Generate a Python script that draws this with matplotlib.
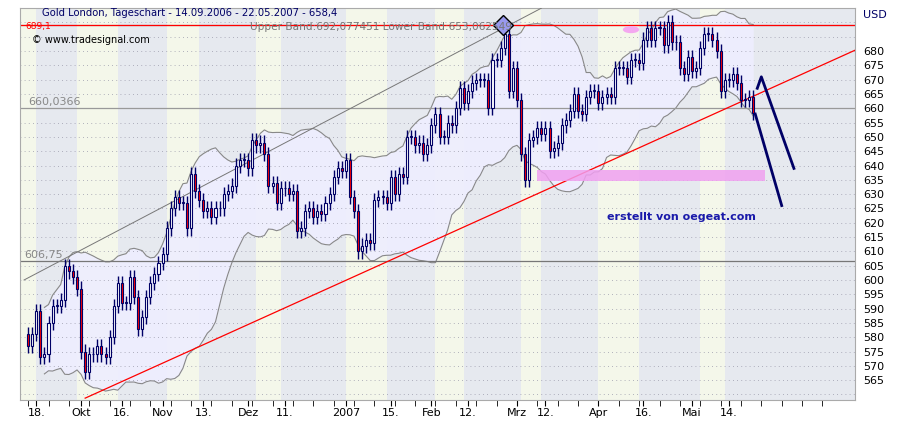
import numpy as np
import pandas as pd
import matplotlib.pyplot as plt
from matplotlib.patches import Rectangle, Ellipse

# daily closes, 14.09.2006 - 22.05.2007
closes = [
    577, 581, 589, 573, 574, 585, 591, 591, 593, 605, 603, 601, 597, 575, 568,
    574, 574, 577, 574, 573, 580, 591, 599, 592, 592, 601, 594, 583, 587, 594,
    599, 602, 606, 609, 618,
    625, 629, 627, 627, 618, 637, 631, 628, 624, 625, 622, 625, 625, 630, 631,
    633, 640, 642, 642, 639, 649, 647, 648, 644, 633, 634, 627, 632, 632, 630,
    631, 617, 618, 624, 625, 622, 624, 623, 627, 630, 636, 639, 638, 642, 629,
    624, 610, 612, 614, 613, 628, 629, 629, 627, 636, 630, 637, 636, 650, 650,
    647, 648, 644, 647, 654, 658, 650, 650, 655, 654,
    660, 667, 662, 666, 669, 670, 670, 670, 660, 677, 677, 681, 686, 666, 674,
    663, 644, 635, 649, 650, 653, 651, 653, 645, 646, 648, 654, 656, 659, 665,
    659, 658, 664, 666, 666, 662, 664, 665, 664, 674, 674, 674, 671, 677, 677,
    676, 684, 688, 684, 688, 688, 682, 690, 683, 683, 674, 672, 678, 673, 674,
    681, 686, 686, 684, 680, 666, 670, 670, 672, 669, 663, 663, 664, 658.4,
]
tick_pos = [2, 13, 23, 33, 43, 54, 63, 78, 89, 99, 108, 120, 127, 140, 151, 163, 172]
tick_labels = ["18.", "Okt", "16.", "Nov", "13.", "Dez", "11.", "2007", "15.",
               "Feb", "12.", "Mrz", "12.", "Apr", "16.", "Mai", "14."]
stripe_edges = [-2, 2, 12, 22, 34, 42, 56, 62, 78, 88, 100, 107, 121, 126, 140, 150, 165, 171, 203]

hline_top = 689.1
hline_mid = 660.0366
hline_low = 606.75
trend_pts = ([14, 203], [558.7, 680.3])
channel_pts = ([-1, 126], [600.0, 695.0])
support_zone = (125, 181, 634.6, 638.4)
arrow1 = ([179, 180, 188], [667, 671, 639])
arrow2 = ([178.5, 185], [658, 626])

NAVY = "#000066"
x = np.arange(len(closes))
c = np.array(closes, float)
o = np.r_[c[0] + 4, c[:-1]]
mid = pd.Series(c).rolling(20, min_periods=5).mean()
sd = pd.Series(c).rolling(20, min_periods=5).std(ddof=0)
upper, lower = mid + 2 * sd, mid - 2 * sd

fig = plt.figure(figsize=(9.13, 4.34), dpi=100)
ax = fig.add_axes([0.0219, 0.078, 0.9146, 0.9032])
ax.set_xlim(-2, 203)
ax.set_ylim(558, 695)

# background stripes
for i in range(len(stripe_edges) - 1):
    col = "#f4f7ea" if i % 2 == 0 else "#e6e9ef"
    ax.axvspan(stripe_edges[i], stripe_edges[i + 1], color=col, lw=0, zorder=0)
ax.fill_between(x, lower, upper, color="#eeeeff", alpha=0.9, lw=0, zorder=1)
ax.plot(x, upper, color="#888888", lw=0.8, zorder=2)
ax.plot(x, lower, color="#888888", lw=0.8, zorder=2)

for y in np.arange(560, 695, 5):
    ax.axhline(y, color="#9a9aaa", lw=0.6, ls=(0, (1, 4)), zorder=1)

ax.axhline(hline_top, color="#555555", lw=0.8, zorder=2)
ax.axhline(hline_top, color="red", lw=0.9, zorder=2)
ax.axhline(hline_mid, color="#999999", lw=0.9, zorder=2)
ax.axhline(hline_low, color="#777777", lw=0.9, zorder=2)
ax.text(0, hline_mid + 1, "660,0366", color="#888888", fontsize=8)
ax.text(-1, hline_low + 1, "606,75", color="#888888", fontsize=8)

ax.plot(*trend_pts, color="red", lw=0.9, zorder=3)
ax.plot(*channel_pts, color="#777777", lw=0.7, zorder=3)
x0, x1, y0, y1 = support_zone
ax.add_patch(Rectangle((x0, y0), x1 - x0, y1 - y0, color="#f0a0f0", alpha=0.85, lw=0, zorder=3))
ax.add_patch(Ellipse((148, 687.5), 4, 2.5, color="#f4a8f0", lw=0, zorder=3))

# candles
for xi, oi, ci in zip(x, o, c):
    hi, lo = max(oi, ci) + 2.5, min(oi, ci) - 2.5
    ax.vlines(xi, lo, hi, color=NAVY, lw=1, zorder=4)
    face = "red" if ci < oi else "white"
    ax.add_patch(Rectangle((xi - 0.25, min(oi, ci)), 0.5, max(abs(ci - oi), 0.3),
                           facecolor=face, edgecolor=NAVY, lw=0.8, zorder=5))
ax.plot([116.5], [hline_top], marker="D", ms=10, mfc="#9999ee", mec="black", zorder=6)

ax.plot(*arrow1, color=NAVY, lw=2, zorder=6)
ax.plot(*arrow2, color=NAVY, lw=2, zorder=6)
ax.text(142, 621, "erstellt von oegeat.com", color="#1a1aaa", fontsize=8, fontweight="bold")

fig.text(0.046, 0.962, "Gold London, Tageschart - 14.09.2006 - 22.05.2007 - 658,4",
         color=NAVY, fontsize=7.2)
fig.text(0.035, 0.9, "© www.tradesignal.com", color="black", fontsize=7)
fig.text(0.274, 0.932, "Upper Band:692,077451 Lower Band:653,062549", color="#777777", fontsize=7.6)
fig.text(0.028, 0.934, "689,1", color="red", fontsize=6.5)

ax.yaxis.tick_right()
ax.set_yticks(np.arange(565, 685, 5))
ax.tick_params(axis="y", labelsize=8, length=0, pad=6)
ax.set_xticks(tick_pos)
ax.set_xticklabels(tick_labels, fontsize=8)
ax.set_xticks(np.arange(0, 200, 5), minor=True)
ax.tick_params(axis="x", which="both", direction="out", length=4, pad=2)
fig.text(0.945, 0.958, "USD", color=NAVY, fontsize=8)
for s in ax.spines.values():
    s.set_color("#aaaaaa")

fig.savefig("out.png", dpi=100)
